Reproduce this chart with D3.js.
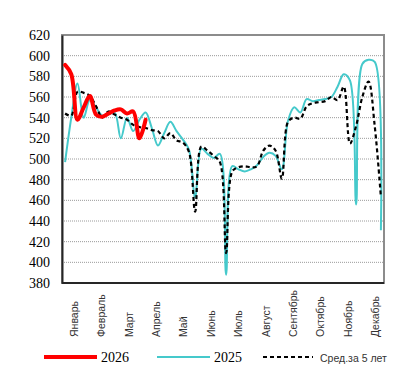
<!DOCTYPE html>
<html>
<head>
<meta charset="utf-8">
<script src="https://cdn.jsdelivr.net/npm/d3@7"></script>
<style>
  body { margin: 0; background: #fff; }
  svg { display: block; }
  .serif { font-family: "Liberation Serif", "Times New Roman", serif; }
  .sans { font-family: "Liberation Sans", Arial, sans-serif; }
</style>
</head>
<body>
<div id="chart"></div>
<script>
// Weekly prices: current year, previous year, 5-year average

const months = ['Январь', 'Февраль', 'Март', 'Апрель', 'Май', 'Июнь',
    'Июль', 'Август', 'Сентябрь', 'Октябрь', 'Ноябрь', 'Декабрь'];

const yTicks = [380, 400, 420, 440, 460, 480, 500, 520, 540, 560, 580, 600, 620];

// 2026 (weeks 1-14)
const values2026 = [591, 582, 538, 550, 561, 543, 541, 544, 547, 548, 544, 546, 520, 538];

// 2025 (weeks 1-52)
const values2025 = [497, 540, 573, 540, 557, 550, 542, 543, 545, 520,
    540, 527, 538, 545, 530, 513, 525, 536, 527, 519,
    509, 463, 510, 505, 501, 505, 388, 493, 490, 488,
    490, 494, 502, 506, 503, 490, 537, 550, 545, 558,
    556, 557, 558, 560, 570, 582, 576, 456, 592, 596,
    594, 431];

// average for 5 years (weeks 1-52)
const valuesAvg = [544, 542, 565, 564, 561, 551, 540, 546, 543, 540,
    538, 533, 531, 530, 528, 527, 520, 525, 518, 516,
    507, 449, 512, 508, 503, 497, 409, 488, 492, 493,
    492, 493, 508, 513, 508, 481, 536, 540, 539, 551,
    554, 555, 556, 560, 557, 570, 515, 532, 560, 575,
    532, 463];

const legendItems = [
    { label: '2026', color: '#ff0000', width: 4, dash: null, cls: 'serif', size: 14 },
    { label: '2025', color: '#45c9cb', width: 2, dash: null, cls: 'serif', size: 14 },
    { label: 'Сред.за 5 лет', color: '#000000', width: 2.2, dash: '4,3', cls: 'sans', size: 10.5 }
];

const width = 420, height = 372;
const margin = { top: 35, right: 36, bottom: 89, left: 62 };
const plotW = width - margin.left - margin.right;
const plotH = height - margin.top - margin.bottom;

const svg = d3.select('#chart').append('svg')
    .attr('width', width)
    .attr('height', height);

const g = svg.append('g')
    .attr('transform', `translate(${margin.left},${margin.top})`);

const weeks = d3.range(52);
const x = d3.scaleBand().domain(weeks).range([0, plotW]);
const y = d3.scaleLinear().domain([380, 620]).range([plotH, 0]);

// gridlines
g.selectAll('.grid')
    .data(yTicks.slice(1, -1))
    .enter()
    .append('line')
    .attr('x1', 0)
    .attr('x2', plotW)
    .attr('y1', d => y(d))
    .attr('y2', d => y(d))
    .attr('stroke', '#9a9a9a')
    .attr('stroke-width', 1)
    .attr('stroke-dasharray', '1,1');

// frame
g.append('rect')
    .attr('width', plotW)
    .attr('height', plotH)
    .attr('fill', 'none')
    .attr('stroke', '#8c8c8c')
    .attr('stroke-width', 2);

// y axis
const yAxis = g.append('g')
    .call(d3.axisLeft(y).tickValues(yTicks).tickSize(0).tickPadding(12));
yAxis.attr('font-family', null);
yAxis.select('.domain')
    .attr('stroke', '#262626')
    .attr('stroke-width', 2);
yAxis.selectAll('text')
    .attr('class', 'serif')
    .style('font-size', '14px')
    .attr('fill', '#000');

// bottom axis line
g.append('line')
    .attr('x1', 0)
    .attr('x2', plotW)
    .attr('y1', plotH)
    .attr('y2', plotH)
    .attr('stroke', '#262626')
    .attr('stroke-width', 2);

// month labels
const xm = d3.scalePoint().domain(months).range([16, 317]);
g.selectAll('.month')
    .data(months)
    .enter()
    .append('text')
    .attr('class', 'sans')
    .attr('transform', d => `translate(${xm(d)},${plotH + 54}) rotate(-90)`)
    .style('font-size', '10.5px')
    .attr('fill', '#333')
    .text(d => d);

// lines
const line = d3.line()
    .x((d, i) => x(i) + x.bandwidth() / 2)
    .y(d => y(d))
    .curve(d3.curveCatmullRom.alpha(0.5));

g.append('path')
    .datum(values2025)
    .attr('d', line)
    .attr('fill', 'none')
    .attr('stroke', '#45c9cb')
    .attr('stroke-width', 2);

g.append('path')
    .datum(valuesAvg)
    .attr('d', line)
    .attr('fill', 'none')
    .attr('stroke', '#000')
    .attr('stroke-width', 2.2)
    .attr('stroke-dasharray', '4,3');

g.append('path')
    .datum(values2026)
    .attr('d', line)
    .attr('fill', 'none')
    .attr('stroke', '#ff0000')
    .attr('stroke-width', 4)
    .attr('stroke-linejoin', 'round')
    .attr('stroke-linecap', 'round');

// legend
const legendX = [44, 157, 263];
const legend = svg.append('g').attr('transform', 'translate(0,357)');
const items = legend.selectAll('.legend-item')
    .data(legendItems)
    .enter()
    .append('g')
    .attr('transform', (d, i) => `translate(${legendX[i]},0)`);

items.append('line')
    .attr('x1', 0)
    .attr('x2', (d, i) => i === 2 ? 50 : 53)
    .attr('stroke', d => d.color)
    .attr('stroke-width', d => d.width)
    .attr('stroke-dasharray', d => d.dash);

items.append('text')
    .attr('class', d => d.cls)
    .attr('x', 57)
    .attr('y', 5)
    .style('font-size', d => d.size + 'px')
    .attr('fill', (d, i) => i === 2 ? '#333' : '#000')
    .text(d => d.label);
</script>
</body>
</html>
